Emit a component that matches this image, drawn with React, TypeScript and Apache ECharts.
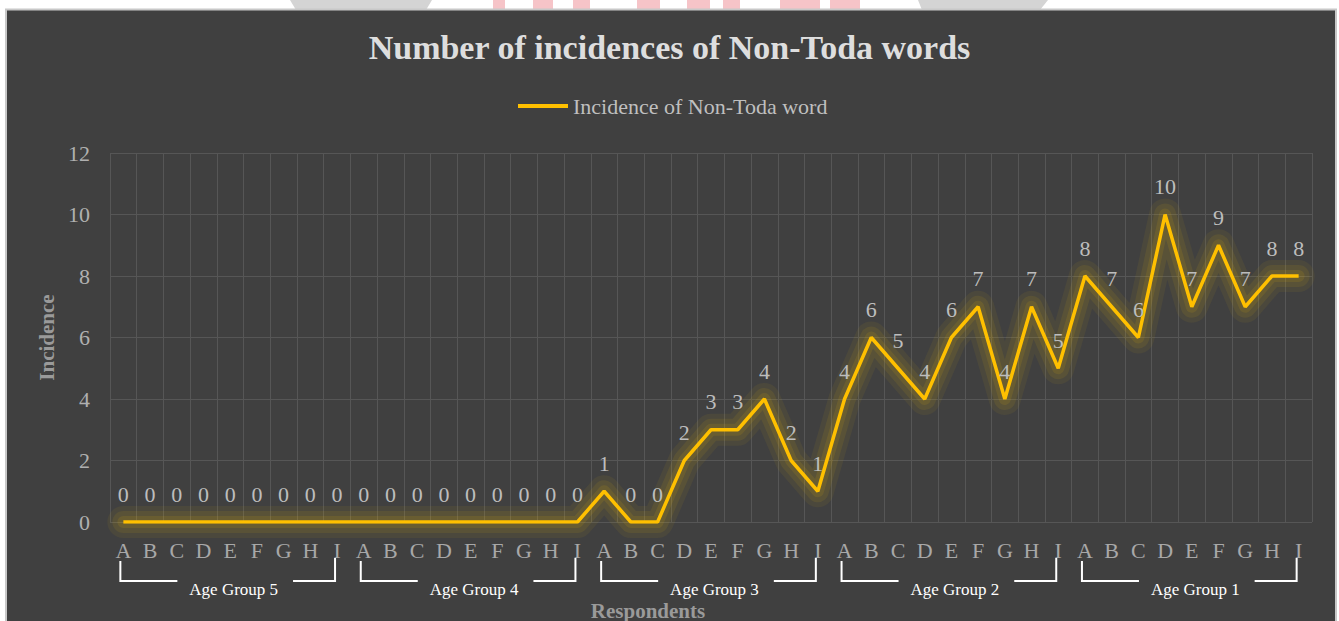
import React, { useEffect, useRef } from "react";
import * as echarts from "echarts";

const letters = ["A", "B", "C", "D", "E", "F", "G", "H", "I"];
const groupNames = ["Age Group 5", "Age Group 4", "Age Group 3", "Age Group 2", "Age Group 1"];
const categories = groupNames.flatMap((g) => letters.map((l) => g.slice(-1) + "-" + l));

const group5 = [0, 0, 0, 0, 0, 0, 0, 0, 0];
const group4 = [0, 0, 0, 0, 0, 0, 0, 0, 0];
const group3 = [1, 0, 0, 2, 3, 3, 4, 2, 1];
const group2 = [4, 6, 5, 4, 6, 7, 4, 7, 5];
const group1 = [8, 7, 6, 10, 7, 9, 7, 8, 8];
const values = [...group5, ...group4, ...group3, ...group2, ...group1];

const seriesName = "Incidence of Non-Toda word";
const titleText = "Number of incidences of Non-Toda words";
const FONT = "'Liberation Serif', 'Times New Roman', serif";

export default function App() {
  const ref = useRef<HTMLDivElement>(null);
  useEffect(() => {
    if (!ref.current) return;
    const chart = echarts.init(ref.current, null, { renderer: "svg" });
    const base: any[] = [
      // watermark remnants at top
      { type: "polygon", z: -200, shape: { points: [[290, 0], [432, 0], [426, 10], [296, 10]] }, style: { fill: "#d4d4d4" } },
      { type: "polygon", z: -200, shape: { points: [[918, 0], [1048, 0], [1040, 10], [922, 10]] }, style: { fill: "#d4d4d4" } },
      { type: "rect", z: -199, shape: { x: 493, y: 0, width: 12, height: 10 }, style: { fill: "#f6c4c8" } },
      { type: "rect", z: -199, shape: { x: 533, y: 0, width: 20, height: 10 }, style: { fill: "#f6c4c8" } },
      { type: "rect", z: -199, shape: { x: 573, y: 0, width: 17, height: 10 }, style: { fill: "#f6c4c8" } },
      { type: "rect", z: -199, shape: { x: 637, y: 0, width: 23, height: 10 }, style: { fill: "#f6c4c8" } },
      { type: "rect", z: -199, shape: { x: 687, y: 0, width: 23, height: 10 }, style: { fill: "#f6c4c8" } },
      { type: "rect", z: -199, shape: { x: 723, y: 0, width: 17, height: 10 }, style: { fill: "#f6c4c8" } },
      { type: "rect", z: -199, shape: { x: 780, y: 0, width: 40, height: 10 }, style: { fill: "#f6c4c8" } },
      { type: "rect", z: -199, shape: { x: 830, y: 0, width: 30, height: 10 }, style: { fill: "#f6c4c8" } },
      // chart area
      { type: "rect", z: -100, shape: { x: 6, y: 9.5, width: 1330, height: 620 }, style: { fill: "#404040", stroke: "#c8c8c8", lineWidth: 2 } },
    ];
    const glowLayer = (width: number, alpha: number, name: string) => ({
      name,
      type: "line",
      data: values,
      symbol: "none",
      silent: true,
      z: 1,
      lineStyle: {
        color: `rgba(255, 200, 0, ${alpha})`,
        width,
        cap: "round",
        join: "round",
      },
    });
    const option: any = {
      animation: false,
      backgroundColor: "#ffffff",
      title: {
        text: titleText,
        left: "center",
        top: 25,
        textStyle: { fontFamily: FONT, fontSize: 34, fontWeight: "bold", color: "#dedede" },
      },
      legend: {
        data: [{ name: seriesName, itemStyle: { color: "#FFC000", opacity: 1 } }],
        left: 513,
        top: 90,
        icon: "rect",
        itemWidth: 50,
        itemHeight: 4,
        itemGap: 10,
        textStyle: { fontFamily: FONT, fontSize: 22, color: "#bfbfbf" },
      },
      grid: { left: 110, right: 27, top: 153, bottom: 99, containLabel: false, outerBoundsMode: "none" },
      xAxis: {
        type: "category",
        data: categories,
        boundaryGap: true,
        name: "Respondents",
        nameLocation: "middle",
        nameGap: 78,
        nameTextStyle: { fontFamily: FONT, fontSize: 21, fontWeight: "bold", color: "#9a9a9a", padding: [0, 126, 0, 0] },
        axisLine: { show: false },
        axisTick: { show: false },
        axisLabel: {
          interval: 0,
          margin: 17,
          fontFamily: FONT,
          fontSize: 22,
          color: "#a8a8a8",
          formatter: (v: string) => v.split("-")[1],
        },
        splitLine: { show: true, interval: 0, lineStyle: { color: "#565656", width: 1 } },
      },
      yAxis: {
        type: "value",
        min: 0,
        max: 12,
        interval: 2,
        name: "Incidence",
        nameLocation: "middle",
        nameGap: 52,
        nameTextStyle: { fontFamily: FONT, fontSize: 21, fontWeight: "bold", color: "#9a9a9a" },
        axisLine: { show: false },
        axisTick: { show: false },
        axisLabel: { margin: 20, fontFamily: FONT, fontSize: 22, color: "#b0b0b0" },
        splitLine: { show: true, lineStyle: { color: "#565656", width: 1 } },
      },
      series: [
        glowLayer(32, 0.06, "glow-outer"),
        glowLayer(22, 0.08, "glow-mid"),
        glowLayer(12, 0.1, "glow-inner"),
        {
          name: seriesName,
          type: "line",
          data: values,
          showSymbol: true,
          symbol: "circle",
          symbolSize: 2,
          itemStyle: { color: "rgba(0,0,0,0)", borderWidth: 0 },
          color: "#FFC000",
          z: 3,
          lineStyle: { color: "#FFC000", width: 3.5 },
          label: {
            show: true,
            position: "top",
            distance: 16,
            fontFamily: FONT,
            fontSize: 22,
            color: "#bdbdbd",
          },
        },
      ],
      graphic: base,
    };
    chart.setOption(option);

    const brackets: any[] = [];
    groupNames.forEach((g, gi) => {
      const a = chart.convertToPixel({ xAxisIndex: 0 }, categories[gi * letters.length]) as number;
      const b = chart.convertToPixel({ xAxisIndex: 0 }, categories[gi * letters.length + letters.length - 1]) as number;
      const L = a - 3;
      const R = b - 2;
      const lineStyle = { stroke: "#ffffff", lineWidth: 2, fill: null };
      brackets.push(
        { type: "polyline", z: 10, shape: { points: [[L, 561], [L, 581], [L + 57, 581]] }, style: lineStyle },
        { type: "polyline", z: 10, shape: { points: [[R - 42, 581], [R, 581], [R, 558]] }, style: lineStyle },
        {
          type: "text",
          z: 10,
          style: {
            text: g,
            x: (L + R) / 2 + 6,
            y: 589,
            textAlign: "center",
            textVerticalAlign: "middle",
            fill: "#ffffff",
            font: `17px ${FONT}`,
          },
        }
      );
    });
    chart.setOption({ graphic: [...base, ...brackets] });

    return () => chart.dispose();
  }, []);
  return <div ref={ref} style={{ position: "fixed", left: 0, top: 0, width: 1339, height: 621 }} />;
}
